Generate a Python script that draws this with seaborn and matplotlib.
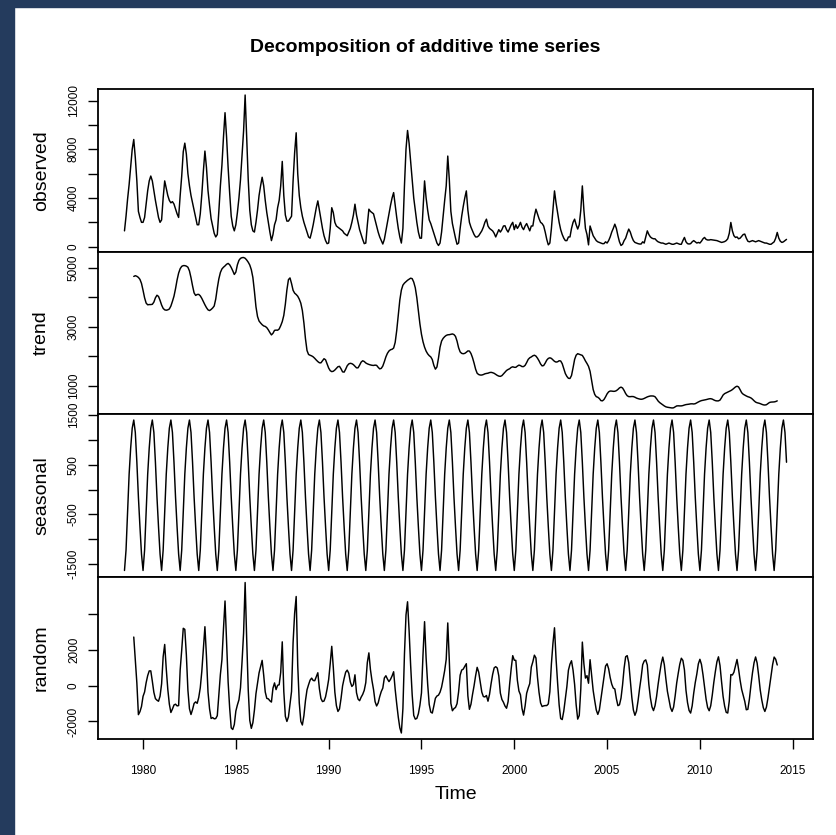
import numpy as np
import pandas as pd
import matplotlib
matplotlib.use("Agg")
import matplotlib.pyplot as plt
import seaborn as sns
from matplotlib.patches import Rectangle

# Monthly series, January to December of each year
start_year = 1979
obs_1979 = [1300, 2500, 3900, 5100, 6500, 8000, 8800, 7300, 5400, 2900, 2400, 2000]
obs_1980 = [2000, 2400, 3500, 4600, 5400, 5800, 5400, 4600, 3800, 3100, 2400, 2000]
obs_1981 = [2200, 4000, 5400, 4800, 4200, 3800, 3600, 3700, 3500, 3100, 2700, 2400]
obs_1982 = [4200, 5800, 7800, 8500, 7600, 6000, 5000, 4200, 3600, 3000, 2400, 1800]
obs_1983 = [1800, 2700, 4300, 6200, 7850, 6500, 4600, 3400, 2300, 1700, 1100, 800]
obs_1984 = [1000, 2900, 5000, 6700, 9000, 11000, 9000, 6500, 4400, 2500, 1700, 1300]
obs_1985 = [1800, 2800, 4000, 5500, 7500, 9500, 12450, 9000, 5500, 3000, 1800, 1300]
obs_1986 = [1200, 2000, 3000, 4200, 5000, 5700, 5000, 3800, 2800, 2000, 1200, 500]
obs_1987 = [1000, 1800, 2200, 3200, 3800, 5000, 7000, 4200, 2600, 2100, 2100, 2300]
obs_1988 = [2500, 5400, 7700, 9350, 6000, 4200, 3200, 2500, 2000, 1600, 1200, 800]
obs_1989 = [700, 1200, 1800, 2500, 3200, 3760, 3000, 2200, 1500, 900, 500, 250]
obs_1990 = [300, 1500, 3200, 2800, 2000, 1700, 1600, 1500, 1400, 1300, 1100, 1000]
obs_1991 = [900, 1200, 1500, 2000, 2600, 3490, 2600, 2000, 1400, 1000, 600, 250]
obs_1992 = [300, 1800, 3080, 2900, 2800, 2700, 2200, 1700, 1200, 800, 500, 220]
obs_1993 = [600, 1300, 2000, 2700, 3400, 4000, 4440, 3400, 2400, 1500, 800, 300]
obs_1994 = [1500, 5000, 8000, 9540, 8500, 7000, 5500, 4000, 3000, 2000, 1200, 700]
obs_1995 = [700, 3000, 5400, 4000, 3000, 2200, 1900, 1500, 1100, 700, 300, 100]
obs_1996 = [300, 1200, 2500, 3800, 5000, 7440, 5500, 2900, 1900, 1300, 700, 200]
obs_1997 = [300, 1500, 2500, 3300, 4000, 4580, 3000, 2000, 1600, 1300, 1000, 800]
obs_1998 = [800, 900, 1100, 1300, 1600, 2000, 2260, 1700, 1500, 1400, 1300, 1100]
obs_1999 = [800, 1100, 1400, 1200, 1400, 1700, 1720, 1400, 1200, 1500, 1800, 2000]
obs_2000 = [1400, 1800, 1500, 1700, 2000, 1600, 1400, 1700, 1900, 1600, 1300, 1700]
obs_2001 = [1700, 2500, 3080, 2700, 2300, 2000, 1900, 1700, 1200, 600, 150, 300]
obs_2002 = [1500, 3000, 4580, 3600, 2800, 2000, 1400, 1000, 700, 500, 500, 800]
obs_2003 = [800, 1500, 2000, 2260, 1800, 1450, 1800, 3000, 4990, 3000, 1500, 1000]
obs_2004 = [150, 1700, 1300, 900, 700, 500, 400, 350, 300, 250, 250, 400]
obs_2005 = [300, 500, 800, 1200, 1500, 1850, 1500, 900, 400, 100, 200, 500]
obs_2006 = [700, 1100, 1445, 1200, 800, 500, 350, 300, 250, 220, 220, 400]
obs_2007 = [300, 800, 1300, 1000, 800, 700, 650, 650, 500, 400, 350, 300]
obs_2008 = [300, 250, 200, 250, 300, 250, 200, 200, 250, 300, 250, 200]
obs_2009 = [200, 500, 760, 400, 250, 220, 250, 400, 500, 400, 300, 350]
obs_2010 = [300, 450, 650, 760, 600, 550, 550, 580, 560, 540, 520, 500]
obs_2011 = [450, 400, 350, 380, 420, 500, 650, 1100, 1990, 1300, 900, 760]
obs_2012 = [800, 650, 700, 850, 1000, 1036, 700, 450, 400, 450, 500, 450]
obs_2013 = [400, 450, 500, 450, 400, 350, 300, 300, 250, 200, 200, 300]
obs_2014 = [400, 700, 1170, 700, 450, 350, 400, 500, 600]

# Seasonal figure (Jan..Dec)
seasonal_figure = [-1630, -1220, -455, 307, 837, 1235, 1400, 1150, 550, -150, -750, -1300]

# Axis ticks and the labels printed on them
x_ticks = [1980, 1985, 1990, 1995, 2000, 2005, 2010, 2015]
obs_ticks = [0, 2000, 4000, 6000, 8000, 10000, 12000]
obs_labels = ["0", "", "4000", "", "8000", "", "12000"]
trend_ticks = [1000, 2000, 3000, 4000, 5000]
trend_labels = ["1000", "", "3000", "", "5000"]
seas_ticks = [-1500, -1000, -500, 0, 500, 1000, 1500]
seas_labels = ["-1500", "", "-500", "", "500", "", "1500"]
rand_ticks = [-2000, 0, 2000, 4000]
rand_labels = ["-2000", "0", "2000", ""]

years = [obs_1979, obs_1980, obs_1981, obs_1982, obs_1983, obs_1984, obs_1985,
         obs_1986, obs_1987, obs_1988, obs_1989, obs_1990, obs_1991, obs_1992,
         obs_1993, obs_1994, obs_1995, obs_1996, obs_1997, obs_1998, obs_1999,
         obs_2000, obs_2001, obs_2002, obs_2003, obs_2004, obs_2005, obs_2006,
         obs_2007, obs_2008, obs_2009, obs_2010, obs_2011, obs_2012, obs_2013,
         obs_2014]
observed = np.array([v for y in years for v in y], dtype=float)
n = len(observed)
time = start_year + np.arange(n) / 12.0

# additive decomposition: centred 2x12 moving average trend
w = np.r_[0.5, np.ones(11), 0.5] / 12.0
trend = np.full(n, np.nan)
trend[6:n - 6] = np.convolve(observed, w, mode="valid")
seasonal = np.array([seasonal_figure[i % 12] for i in range(n)], dtype=float)
random = observed - trend - seasonal

df = pd.DataFrame({"Time": time, "observed": observed, "trend": trend,
                   "seasonal": seasonal, "random": random})

sns.set_style("ticks")
plt.rcParams["font.family"] = ["Liberation Sans", "DejaVu Sans"]
for key in ("text.color", "axes.labelcolor", "xtick.color", "ytick.color"):
    plt.rcParams[key] = "black"

W, H = 836, 835
fig = plt.figure(figsize=(W / 100, H / 100), dpi=100)
fig.patch.set_facecolor("white")
navy = "#243b5d"
fig.patches.append(Rectangle((0, 0), 14 / W, 1, transform=fig.transFigure,
                             color=navy, zorder=-5))
fig.patches.append(Rectangle((0, 1 - 7 / H), 1, 7 / H, transform=fig.transFigure,
                             color=navy, zorder=-5))

left_px, right_px = 98, 813
top_px, bottom_px = 89, 739
panel_h = (bottom_px - top_px) / 4

def r_range(lo, hi):
    ext = 0.04 * (hi - lo)
    return lo - ext, hi + ext

xlim = r_range(time.min(), time.max())

panels = [("observed", obs_ticks, obs_labels),
          ("trend", trend_ticks, trend_labels),
          ("seasonal", seas_ticks, seas_labels),
          ("random", rand_ticks, rand_labels)]

for i, (name, ticks, labels) in enumerate(panels):
    top = top_px + i * panel_h
    ax = fig.add_axes([left_px / W, 1 - (top + panel_h) / H,
                       (right_px - left_px) / W, panel_h / H])
    ax.set_facecolor("white")
    sub = df[["Time", name]].dropna()
    sns.lineplot(data=sub, x="Time", y=name, ax=ax, color="black",
                 linewidth=1.05, estimator=None)
    ax.set_xlim(*xlim)
    ax.set_ylim(*r_range(sub[name].min(), sub[name].max()))
    ax.set_yticks(ticks)
    ax.set_yticklabels(labels)
    for lab in ax.get_yticklabels():
        lab.set_rotation(90)
        lab.set_va("center")
    ax.tick_params(axis="y", direction="out", length=7, width=1,
                   labelsize=8.5, pad=6, color="black", labelcolor="black")
    for sp in ax.spines.values():
        sp.set_visible(True)
        sp.set_linewidth(1.3)
        sp.set_color("black")
    ax.set_ylabel(name, fontsize=14, color="black")
    ax.yaxis.set_label_coords(-0.067, 0.5)
    if i < 3:
        ax.tick_params(axis="x", bottom=False, labelbottom=False)
        ax.set_xlabel("")
    else:
        ax.set_xticks(x_ticks)
        ax.set_xticklabels([str(t) for t in x_ticks])
        ax.tick_params(axis="x", direction="out", length=7, width=1,
                       labelsize=8.5, pad=12, color="black", labelcolor="black")
        ax.set_xlabel("Time", fontsize=14, labelpad=6, color="black")

fig.text(425 / W, 1 - 48 / H, "Decomposition of additive time series",
         ha="center", va="center", fontsize=14, fontweight="bold", color="black")

fig.savefig("out.png", dpi=100, facecolor="white")
